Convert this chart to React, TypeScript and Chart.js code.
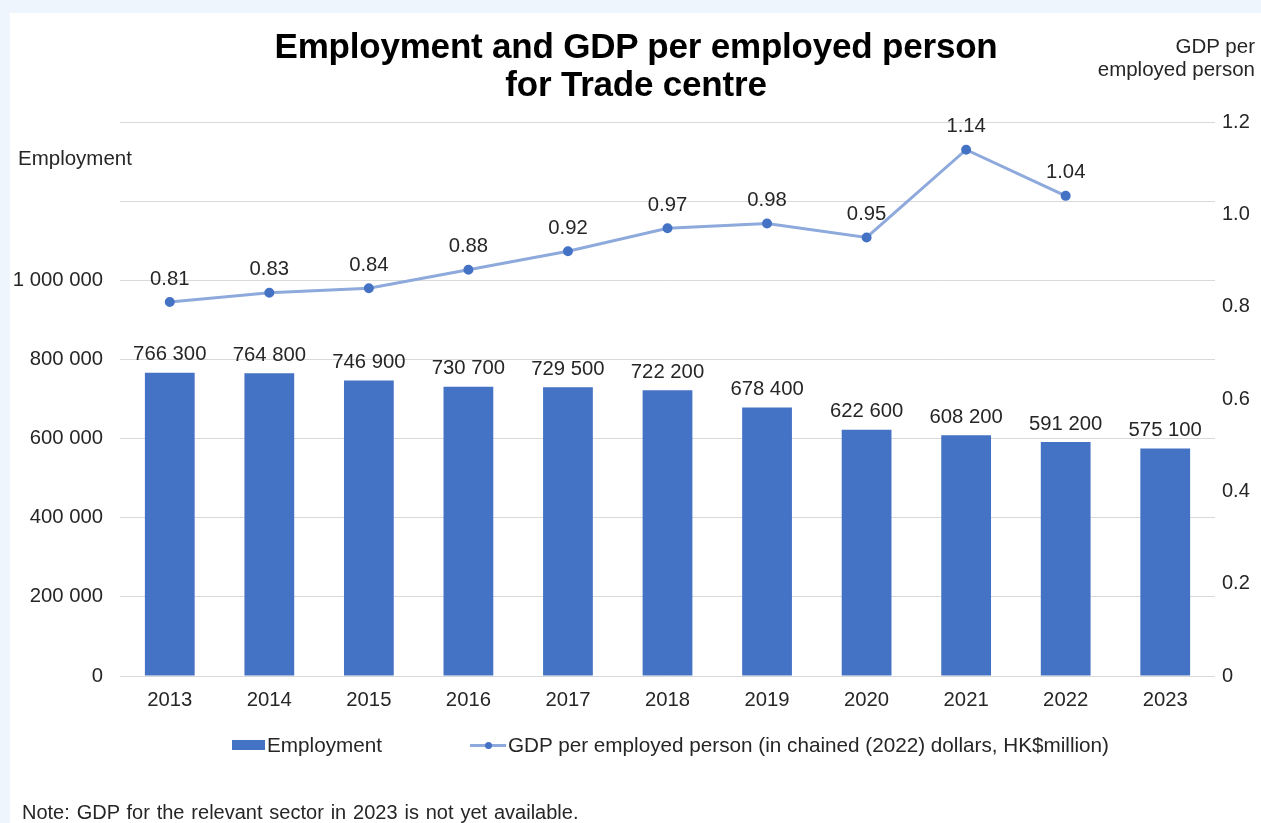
import React, { useEffect, useRef } from "react";
import { Chart, registerables } from "chart.js";

Chart.register(...registerables);

const years = ["2013", "2014", "2015", "2016", "2017", "2018", "2019", "2020", "2021", "2022", "2023"];
const employment = [766300, 764800, 746900, 730700, 729500, 722200, 678400, 622600, 608200, 591200, 575100];
const gdpPerPerson = [0.81, 0.83, 0.84, 0.88, 0.92, 0.97, 0.98, 0.95, 1.14, 1.04, null];
const leftTicksShown = [0, 200000, 400000, 600000, 800000, 1000000];

const FONT = "'Liberation Sans', Arial, sans-serif";
const BAR_COLOR = "#4472C4";
const LINE_COLOR = "#8EA9DB";
const TEXT = "#262626";

const fmtThousands = (v: number) => String(Math.round(v)).replace(/\B(?=(\d{3})+(?!\d))/g, " ");

const labelPlugin = {
  id: "valueLabels",
  afterDatasetsDraw(chart: any) {
    const ctx = chart.ctx;
    ctx.save();
    ctx.font = `20.3px ${FONT}`;
    ctx.fillStyle = TEXT;
    ctx.textAlign = "center";
    ctx.textBaseline = "middle";
    const barMeta = chart.getDatasetMeta(0);
    barMeta.data.forEach((el: any, i: number) => {
      ctx.fillText(fmtThousands(employment[i]), el.x, el.y - 18);
    });
    const lineMeta = chart.getDatasetMeta(1);
    lineMeta.data.forEach((el: any, i: number) => {
      const v = gdpPerPerson[i];
      if (v == null) return;
      ctx.fillText(v.toFixed(2), el.x, el.y - 23);
    });
    ctx.restore();
  },
};

export default function App() {
  const ref = useRef<HTMLCanvasElement | null>(null);

  useEffect(() => {
    if (!ref.current) return;
    const chart = new Chart(ref.current, {
      type: "bar",
      data: {
        labels: years,
        datasets: [
          {
            type: "bar",
            label: "Employment",
            data: employment,
            backgroundColor: BAR_COLOR,
            yAxisID: "y",
            barPercentage: 0.5,
            categoryPercentage: 1,
            order: 2,
          } as any,
          {
            type: "line",
            label: "GDP per employed person (in chained (2022) dollars, HK$million)",
            data: gdpPerPerson,
            borderColor: LINE_COLOR,
            backgroundColor: BAR_COLOR,
            pointBackgroundColor: BAR_COLOR,
            pointBorderColor: BAR_COLOR,
            pointRadius: 3.5,
            borderWidth: 3,
            yAxisID: "y1",
            order: 1,
            spanGaps: false,
          } as any,
        ],
      },
      options: {
        responsive: false,
        animation: false,
        layout: { padding: { top: 122, left: 0, right: 0, bottom: 0 } },
        plugins: {
          legend: { display: false },
          title: { display: false },
          tooltip: { enabled: false },
        },
        scales: {
          x: {
            grid: { display: false, drawTicks: false },
            border: { display: false },
            ticks: { font: { family: FONT, size: 20.3 }, color: TEXT, padding: 12 },
            afterFit: (s: any) => {
              s.height = 147;
            },
          },
          y: {
            position: "left",
            min: 0,
            max: 1400000,
            grid: { color: "#d9d9d9", lineWidth: 1, drawTicks: false },
            border: { display: false },
            ticks: {
              stepSize: 200000,
              padding: 17,
              font: { family: FONT, size: 20.3 },
              color: TEXT,
              callback: (v: any) => (leftTicksShown.includes(Number(v)) ? fmtThousands(Number(v)) : ""),
            },
            afterFit: (s: any) => {
              s.width = 120;
            },
          },
          y1: {
            position: "right",
            min: 0,
            max: 1.2,
            grid: { display: false, drawTicks: false },
            border: { display: false },
            ticks: {
              stepSize: 0.2,
              padding: 7,
              font: { family: FONT, size: 20 },
              color: TEXT,
              callback: (v: any) => (Number(v) === 0 ? "0" : Number(v).toFixed(1)),
            },
            afterFit: (s: any) => {
              s.width = 46;
            },
          },
        },
      },
      plugins: [labelPlugin],
    });
    return () => chart.destroy();
  }, []);

  const text: React.CSSProperties = { position: "absolute", fontFamily: FONT, color: TEXT, fontSize: 20.5, whiteSpace: "nowrap", lineHeight: "23px" };

  return (
    <div style={{ position: "fixed", left: 0, top: 0, width: 1261, height: 823, background: "#EEF5FC", overflow: "hidden" }}>
      <div style={{ position: "absolute", left: 10, top: 13, right: 0, bottom: 0, background: "#ffffff" }} />
      <canvas ref={ref} width={1261} height={823} style={{ position: "absolute", left: 0, top: 0 }} />
      <div
        style={{
          position: "absolute",
          left: 0,
          width: 1272,
          top: 27,
          textAlign: "center",
          fontFamily: FONT,
          fontWeight: "bold",
          fontSize: 35,
          lineHeight: "38px",
          color: "#000",
          letterSpacing: "-0.2px",
        }}
      >
        Employment and GDP per employed person
        <br />
        for Trade centre
      </div>
      <div style={{ ...text, left: 18, top: 146 }}>Employment</div>
      <div style={{ ...text, right: 6, top: 34, textAlign: "right" }}>
        GDP per
        <br />
        employed person
      </div>
      <div style={{ position: "absolute", left: 232, top: 740, width: 33, height: 10, background: BAR_COLOR }} />
      <div style={{ ...text, left: 267, top: 733, fontSize: 20.7 }}>Employment</div>
      <div style={{ position: "absolute", left: 470, top: 744, width: 36, height: 3, background: LINE_COLOR }} />
      <div style={{ position: "absolute", left: 485, top: 742, width: 7, height: 7, borderRadius: 4, background: BAR_COLOR }} />
      <div style={{ ...text, left: 508, top: 733, fontSize: 20.7 }}>GDP per employed person (in chained (2022) dollars, HK$million)</div>
      <div style={{ ...text, left: 22, top: 801, fontSize: 20, wordSpacing: "1.3px" }}>Note: GDP for the relevant sector in 2023 is not yet available.</div>
    </div>
  );
}
